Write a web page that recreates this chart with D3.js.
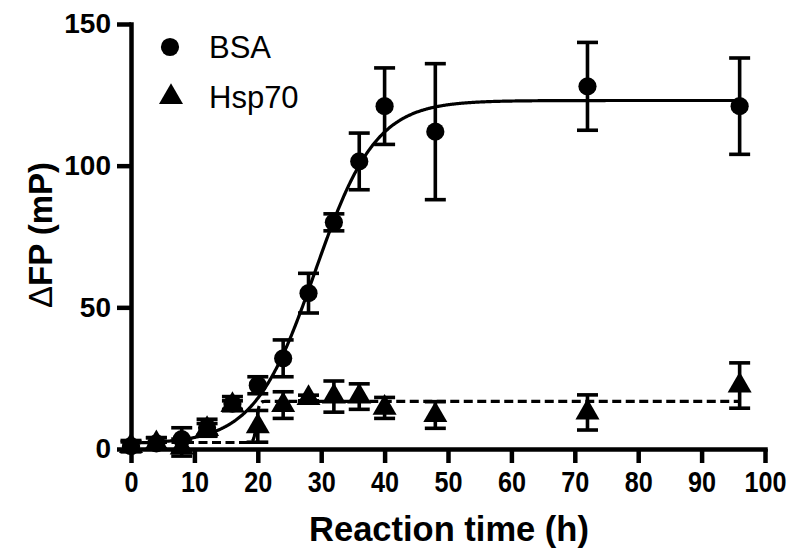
<!DOCTYPE html>
<html>
<head>
<meta charset="utf-8">
<script src="https://cdn.jsdelivr.net/npm/d3@7"></script>
<style>
  body { margin: 0; background: #fff; }
  text { font-family: "Liberation Sans", Arial, sans-serif; }
</style>
</head>
<body>
<svg id="chart" width="800" height="555"></svg>
<script>
// reaction time points (h)
const times = [0, 4, 8, 12, 16, 20, 24, 28, 32, 36, 40, 48, 72, 96];
// BSA: mean and error (mP)
const bsaMean = [1, 2, 3.5, 7.5, 16, 22.5, 32, 55, 80, 101.5, 121, 112, 128, 121];
const bsaErr = [2, 2, 4, 3, 2.5, 3, 6.5, 7, 3, 10, 13.5, 24, 15.5, 17];
// Hsp70: mean and error (mP)
const hspMean = [1, 2, 0.5, 7, 15.5, 8, 15.5, 18, 18.5, 18.5, 14.5, 12, 12.9, 22.4];
const hspErr = [1.5, 2, 3, 2, 1.5, 5.6, 4.7, 1, 5.5, 4.5, 3.7, 4.7, 6.2, 8];
// sigmoid fit params: bottom, top, x50, slope
const bsaFit = [1.8, 123, 29, 4.8];
const hspFit = [2.3, 16.8, 19.8, 0.2];

const xTicks = [0, 10, 20, 30, 40, 50, 60, 70, 80, 90, 100];
const yTicks = [0, 50, 100, 150];

const svg = d3.select("#chart");
const x = d3.scaleLinear().domain([0, 100]).range([131, 765]);
const y = d3.scaleLinear().domain([0, 150]).range([449, 24]);

function sigmoid(p, t) {
  return p[0] + (p[1] - p[0]) / (1 + Math.exp((p[2] - t) / p[3]));
}

// axes
let xAxis = svg.append("g")
  .attr("transform", "translate(0,449)")
  .call(d3.axisBottom(x).tickValues(xTicks).tickSize(14).tickSizeOuter(0).tickPadding(8));
let yAxis = svg.append("g")
  .attr("transform", "translate(131,0)")
  .call(d3.axisLeft(y).tickValues(yTicks).tickSize(14).tickSizeOuter(0).tickPadding(6));

[xAxis, yAxis].forEach(g => {
  g.select(".domain").attr("stroke", "#000").attr("stroke-width", 4.5).attr("stroke-linecap", "square");
  g.selectAll(".tick line").attr("stroke", "#000").attr("stroke-width", 4.5);
  g.selectAll(".tick text")
    .attr("fill", "#000")
    .style("font-size", "28px")
    .style("font-weight", "bold")
    .style("font-family", "'Liberation Sans', Arial, sans-serif");
});
// x tick labels are a bit narrower and taller
xAxis.selectAll(".tick text")
  .style("font-size", "30px")
  .attr("transform", "scale(0.84,1)");

// fitted curves
const curveTs = d3.range(0, 96.01, 0.1);
const line = d3.line().x(d => x(d[0])).y(d => y(d[1]));

svg.append("path")
  .datum(curveTs.map(t => [t, sigmoid(bsaFit, t)]))
  .attr("fill", "none")
  .attr("stroke", "#000")
  .attr("stroke-width", 3.2)
  .attr("d", line);

svg.append("path")
  .datum(curveTs.map(t => [t, sigmoid(hspFit, t)]))
  .attr("fill", "none")
  .attr("stroke", "#000")
  .attr("stroke-width", 3.2)
  .attr("stroke-dasharray", "9,4.5")
  .attr("d", line);

// error bars
function errorBars(means, errs) {
  const g = svg.append("g").attr("stroke", "#000").attr("stroke-width", 3.6);
  times.forEach((t, i) => {
    const cx = x(t), lo = y(means[i] - errs[i]), hi = y(means[i] + errs[i]);
    g.append("line").attr("x1", cx).attr("x2", cx).attr("y1", lo).attr("y2", hi);
    g.append("line").attr("x1", cx - 10.5).attr("x2", cx + 10.5).attr("y1", lo).attr("y2", lo);
    g.append("line").attr("x1", cx - 10.5).attr("x2", cx + 10.5).attr("y1", hi).attr("y2", hi);
  });
}
errorBars(hspMean, hspErr);
errorBars(bsaMean, bsaErr);

const tri = d3.symbol().type(d3.symbolTriangle).size(250);
const circ = d3.symbol().type(d3.symbolCircle).size(260);

svg.append("g").selectAll("path")
  .data(times)
  .join("path")
  .attr("d", tri)
  .attr("transform", (t, i) => `translate(${x(t)},${y(hspMean[i])})`)
  .attr("fill", "#000");

svg.append("g").selectAll("path")
  .data(times)
  .join("path")
  .attr("d", circ)
  .attr("transform", (t, i) => `translate(${x(t)},${y(bsaMean[i])})`)
  .attr("fill", "#000");

// legend
svg.append("path").attr("d", circ).attr("transform", "translate(170,47)").attr("fill", "#000");
svg.append("text").attr("x", 209).attr("y", 58).style("font-size", "31px").text("BSA");
svg.append("path").attr("d", tri).attr("transform", "translate(171,97)").attr("fill", "#000");
svg.append("text").attr("x", 209).attr("y", 108).style("font-size", "31px").text("Hsp70");

// axis titles
svg.append("text")
  .attr("x", 449).attr("y", 541)
  .attr("text-anchor", "middle")
  .style("font-size", "34.5px").style("font-weight", "bold")
  .text("Reaction time (h)");

const yt = svg.append("text")
  .attr("transform", "translate(52,235) rotate(-90)")
  .attr("text-anchor", "middle")
  .style("font-size", "33px").style("font-weight", "bold");
yt.append("tspan").style("font-weight", "normal").text("Δ");
yt.append("tspan").text("FP (mP)");
</script>
</body>
</html>
